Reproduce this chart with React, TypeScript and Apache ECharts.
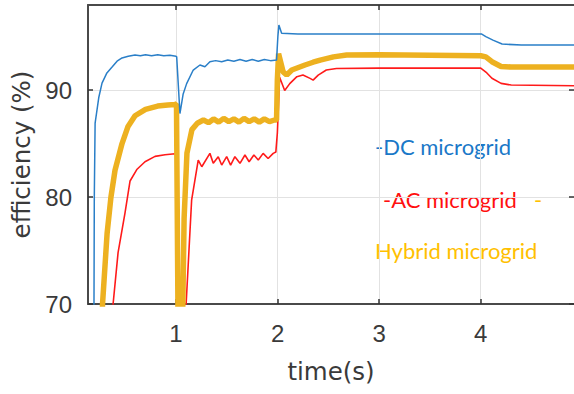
import React, { useEffect, useRef } from "react";
import * as echarts from "echarts";

// time (s), efficiency (%)
const dcPoints: [number, number][] = [
  [0.185, 50], [0.19, 60], [0.196, 80], [0.204, 86.9], [0.24, 89.3], [0.272, 90.65],
  [0.32, 91.6], [0.371, 92.15], [0.42, 92.7], [0.469, 93.0], [0.53, 93.15], [0.597, 93.27],
  [0.65, 93.2], [0.7, 93.3], [0.76, 93.2], [0.82, 93.3], [0.88, 93.2], [0.94, 93.25],
  [1.0, 93.15], [1.007, 93.1], [1.039, 87.8], [1.07, 89.6], [1.105, 90.6], [1.17, 91.87],
  [1.236, 92.34], [1.285, 92.18], [1.334, 92.65], [1.39, 92.75], [1.45, 92.65], [1.51, 92.8],
  [1.57, 92.7], [1.63, 92.85], [1.69, 92.7], [1.75, 92.85], [1.81, 92.7], [1.87, 92.85],
  [1.93, 92.75], [1.99, 92.8], [2.003, 95.0], [2.013, 96.07], [2.04, 95.3], [2.2, 95.25],
  [2.6, 95.25], [3.0, 95.25], [3.4, 95.25], [3.8, 95.25], [4.01, 95.23], [4.05, 95.0],
  [4.12, 94.67], [4.21, 94.3], [4.4, 94.2], [4.918, 94.2],
];

const acPoints: [number, number][] = [
  [0.37, 66], [0.381, 70], [0.43, 74.8], [0.498, 78.5], [0.548, 81.5], [0.617, 82.6],
  [0.695, 83.3], [0.794, 83.8], [0.892, 83.95], [0.99, 84.05], [1.003, 84.0], [1.012, 62],
  [1.085, 62], [1.1, 70], [1.154, 79.7], [1.219, 83.46], [1.254, 82.83], [1.334, 84.08],
  [1.367, 83.15], [1.416, 83.77], [1.45, 82.99], [1.499, 83.77], [1.538, 82.99], [1.58, 83.77],
  [1.63, 83.15], [1.679, 83.93], [1.72, 83.3], [1.767, 83.93], [1.81, 83.46], [1.858, 84.08],
  [1.907, 83.6], [1.957, 84.08], [1.983, 84.2], [1.998, 86.0], [2.02, 91.2], [2.07, 89.95],
  [2.12, 90.6], [2.19, 91.25], [2.25, 91.4], [2.32, 91.09], [2.35, 90.93], [2.4, 91.4],
  [2.48, 91.87], [2.58, 92.02], [3.0, 92.05], [3.5, 92.05], [4.0, 92.05], [4.06, 91.6],
  [4.11, 91.1], [4.2, 90.62], [4.3, 90.47], [4.918, 90.4],
];

const hybridPoints: [number, number][] = [
  [0.262, 64], [0.277, 70], [0.322, 76.6], [0.36, 80], [0.4, 82.5], [0.469, 85.0],
  [0.528, 86.6], [0.597, 87.6], [0.7, 88.2], [0.82, 88.5], [0.92, 88.6], [0.99, 88.65],
  [1.005, 88.7], [1.025, 62], [1.055, 62], [1.08, 78], [1.108, 84.1], [1.157, 86.3],
  [1.21, 86.9], [1.27, 87.2], [1.32, 86.95], [1.37, 87.3], [1.42, 87.0], [1.47, 87.35],
  [1.52, 87.05], [1.57, 87.3], [1.62, 87.0], [1.67, 87.35], [1.72, 87.05], [1.77, 87.3],
  [1.82, 87.0], [1.87, 87.3], [1.92, 87.05], [1.97, 87.2], [1.99, 87.2], [1.998, 91.0],
  [2.01, 93.4], [2.055, 91.7], [2.09, 91.4], [2.14, 91.87], [2.27, 92.34], [2.35, 92.6],
  [2.42, 92.8], [2.55, 93.1], [2.68, 93.27], [3.0, 93.3], [3.5, 93.25], [4.0, 93.2],
  [4.05, 93.1], [4.11, 92.65], [4.2, 92.2], [4.3, 92.15], [4.918, 92.15],
];

const xTicks = [1, 2, 3, 4];
const yTicks = [70, 80, 90];
const xRange = [0.134, 4.918];
const yRange = [70, 97.95];

const labelFont = "Liberation Sans";
const axisColor = "#4a4a4a";
const textColor = "#3a3a3a";

export default function App() {
  const ref = useRef<HTMLDivElement>(null);
  useEffect(() => {
    if (!ref.current) return;
    const chart = echarts.init(ref.current, null, { renderer: "svg" });
    const tickStyle = { color: "#333", width: 1.5 };
    chart.setOption({
      animation: false,
      backgroundColor: "#ffffff",
      grid: { left: 88, top: 5, right: 0, bottom: 90, containLabel: false },
      xAxis: [
        {
          type: "value",
          min: xRange[0],
          max: xRange[1],
          position: "bottom",
          axisLine: { show: true, onZero: false, lineStyle: { color: axisColor, width: 2 } },
          axisTick: { show: true, inside: true, length: 5, customValues: xTicks, lineStyle: tickStyle },
          axisLabel: { customValues: xTicks, fontSize: 24, color: textColor, fontFamily: labelFont, margin: 17 },
          splitLine: { show: true, lineStyle: { color: "#e2e2e2", width: 1 } },
          name: "time(s)",
          nameLocation: "middle",
          nameGap: 55,
          nameTextStyle: { fontSize: 24.5, color: textColor, fontFamily: "DejaVu Sans" },
        },
        {
          type: "value",
          min: xRange[0],
          max: xRange[1],
          position: "top",
          axisLine: { show: true, onZero: false, lineStyle: { color: axisColor, width: 2 } },
          axisTick: { show: true, inside: true, length: 5, customValues: xTicks, lineStyle: tickStyle },
          axisLabel: { show: false },
          splitLine: { show: false },
        },
      ],
      yAxis: [
        {
          type: "value",
          min: yRange[0],
          max: yRange[1],
          position: "left",
          axisLine: { show: true, onZero: false, lineStyle: { color: axisColor, width: 2 } },
          axisTick: { show: true, inside: true, length: 5, customValues: yTicks, lineStyle: tickStyle },
          axisLabel: {
            customValues: yTicks,
            fontSize: 24,
            color: textColor,
            fontFamily: labelFont,
            margin: 16,
            padding: [7, 0, 0, 0],
          },
          splitLine: { show: true, lineStyle: { color: "#e2e2e2", width: 1 } },
          name: "efficiency (%)",
          nameLocation: "middle",
          nameGap: 50,
          nameTextStyle: { fontSize: 24.5, color: textColor, fontFamily: "DejaVu Sans" },
        },
        {
          type: "value",
          min: yRange[0],
          max: yRange[1],
          position: "right",
          axisLine: { show: false },
          axisTick: { show: true, inside: true, length: 5, customValues: yTicks, lineStyle: tickStyle },
          axisLabel: { show: false },
          splitLine: { show: false },
        },
      ],
      series: [
        {
          name: "AC microgrid",
          type: "line",
          data: acPoints,
          showSymbol: false,
          symbol: "none",
          lineStyle: { color: "#ff1a1a", width: 1.6 },
          z: 2,
        },
        {
          name: "Hybrid microgrid",
          type: "line",
          data: hybridPoints,
          showSymbol: false,
          symbol: "none",
          lineStyle: { color: "#EDB120", width: 5.5 },
          z: 3,
        },
        {
          name: "DC microgrid",
          type: "line",
          data: dcPoints,
          showSymbol: false,
          symbol: "none",
          lineStyle: { color: "#2a7fc8", width: 1.5 },
          z: 4,
        },
      ],
      graphic: [
        {
          type: "text",
          left: 375,
          top: 135,
          style: { text: "-DC microgrid", fill: "#1a78c8", font: "22px Lato" },
        },
        {
          type: "text",
          left: 383,
          top: 188,
          style: { text: "-AC microgrid", fill: "#ff1010", font: "22px Lato" },
        },
        {
          type: "text",
          left: 534,
          top: 188,
          style: { text: "-", fill: "#FFC000", font: "22px Lato" },
        },
        {
          type: "text",
          left: 375,
          top: 239,
          style: { text: "Hybrid microgrid", fill: "#FFC000", font: "22px Lato" },
        },
      ],
    });
    return () => chart.dispose();
  }, []);
  return (
    <div
      ref={ref}
      style={{ position: "absolute", left: 0, top: 0, width: 574, height: 394, background: "#fff" }}
    />
  );
}
